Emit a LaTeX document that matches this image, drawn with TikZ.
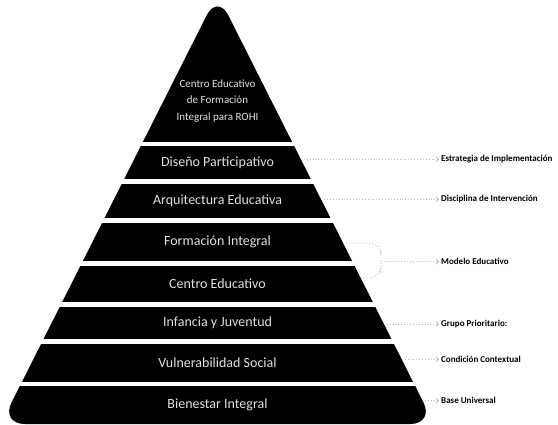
\documentclass[tikz,border=0pt]{standalone}
\usepackage{fontspec}
\setmainfont{Carlito}
\usetikzlibrary{arrows.meta,positioning}
% right rim of the pyramid at height #1 (plus a small offset)
\newcommand{\rimx}[1]{295+0.504*(#1-141.7)}
\tikzset{
  tier/.style={text=white!88!black, font=\fontsize{14}{16}\selectfont},
  tag/.style={anchor=west, inner sep=2pt, font=\fontsize{9}{11}\selectfont\bfseries},
  dots/.style={draw=gray!55, dotted, line width=0.9pt},
  link/.style={dots, -{Straight Barb[length=2.2pt,width=5pt,line width=0.8pt]}}
}
\begin{document}
\begin{tikzpicture}[x=1pt, y=-1pt]
  \useasboundingbox (0,0) rectangle (558,424);
  % --- pyramid body ---
  \fill[black, rounded corners=24pt] (217.5,424) -- (0.7,424) -- (217.5,-6.1) -- (434.3,424) -- cycle;
  % --- white gaps between the tiers ---
  \foreach \g in {143.7,181.3,220.4,263.4,304.4,341.5,384.2} {
    \draw[white, line width=4.4pt] (-5,\g) -- (445,\g);
  }
  % --- tier texts ---
  \node[tier, align=center, font=\fontsize{11}{16.5}\selectfont] (top) at (217.5,101)
    {Centro Educativo\\de Formación\\Integral para ROHI};
  \node[tier] (dp) at (217.5,162.5) {Diseño Participativo};
  \node[tier] (ae) at (217.5,200.8) {Arquitectura Educativa};
  \node[tier] (fi) at (217.5,241.9) {Formación Integral};
  \node[tier] (ce) at (217.5,283.9) {Centro Educativo};
  \node[tier] (ij) at (217.5,323) {Infancia y Juventud};
  \node[tier] (vs) at (217.5,362.9) {Vulnerabilidad Social};
  \node[tier] (bi) at (217.5,405) {Bienestar Integral};
  % --- rim points ---
  \coordinate (dp-e) at ({\rimx{159.5}},159.5);
  \coordinate (ae-e) at ({\rimx{199.5}},199.5);
  \coordinate (fi-e) at ({\rimx{243}},243);
  \coordinate (ce-e) at ({\rimx{278}},278);
  \coordinate (ij-e) at ({\rimx{324}},324);
  \coordinate (vs-e) at ({\rimx{359.5}},359.5);
  \coordinate (bi-e) at ({\rimx{400.5}},400.5);
  \coordinate (mo-j) at (381,261.5);
  % --- side labels ---
  \node[tag] (l-dp) at (439,159.5) {Estrategia de Implementación};
  \node[tag] (l-ae) at (439,199.5) {Disciplina de Intervención};
  \node[tag] (l-mo) at (439,261.5) {Modelo Educativo};
  \node[tag] (l-ij) at (439,324) {Grupo Prioritario:};
  \node[tag] (l-vs) at (439,359.5) {Condición Contextual};
  \node[tag] (l-bi) at (439,400.5) {Base Universal};
  % --- connectors ---
  \draw[dots, rounded corners=12pt] (fi-e) -| (mo-j) |- (ce-e);
  \draw[link] (dp-e) -- (l-dp);
  \draw[link] (ae-e) -- (l-ae);
  \draw[link] (mo-j) -- (l-mo);
  \draw[link] (ij-e) -- (l-ij);
  \draw[link] (vs-e) -- (l-vs);
  \draw[link] (bi-e) -- (l-bi);
\end{tikzpicture}
\end{document}
